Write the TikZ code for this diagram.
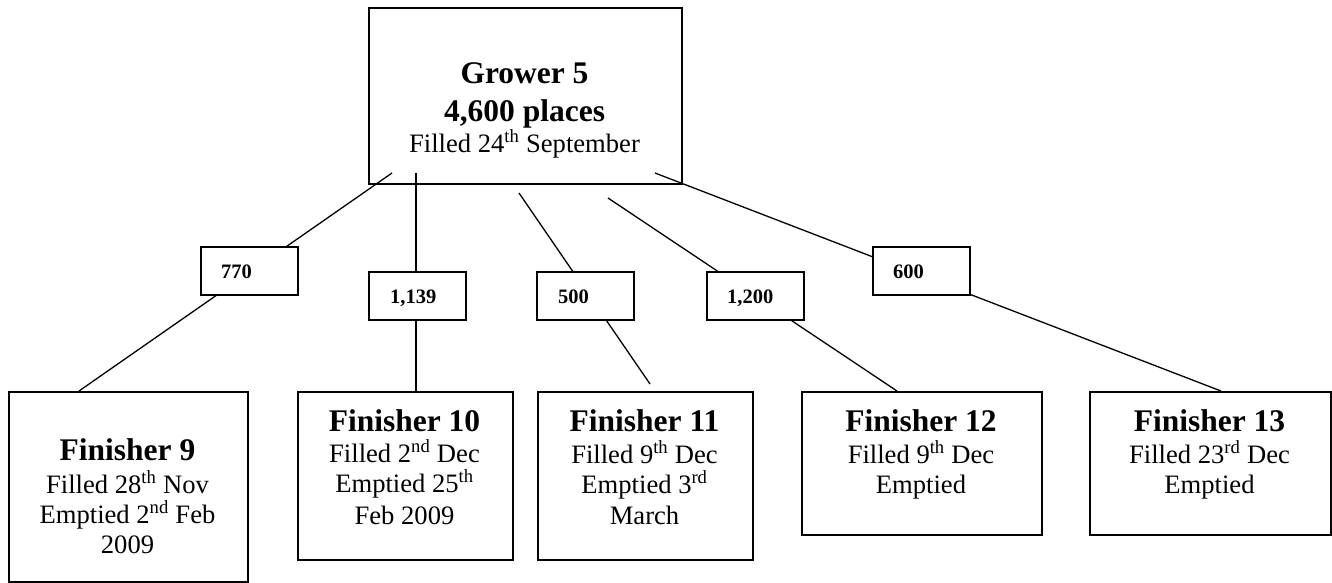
\documentclass[tikz,border=0pt]{standalone}
\usepackage{fontspec}
\setmainfont{Liberation Serif}
\begin{document}
\begin{tikzpicture}[x=1pt,y=-1pt,
  boxst/.style={draw=black, line width=1.6pt, fill=white, inner sep=0pt, anchor=north west},
  conn/.style={line width=1.3pt},
  headb/.style={font=\fontsize{31.5}{36}\selectfont\bfseries, inner sep=0pt, anchor=base},
  reg/.style={font=\fontsize{26.6}{31}\selectfont, inner sep=0pt, anchor=base},
  lab/.style={font=\fontsize{20.5}{24}\selectfont\bfseries, inner sep=0pt, anchor=base west}]
\useasboundingbox (0,0) rectangle (1332,582);

% grower box
\node[boxst, minimum width=313pt, minimum height=176pt] (grower) at (368,7) {};
\node[headb] (g1) at (524.5,83) {Grower 5};
\node[headb] (g2) at (524.5,121) {4,600 places};
\node[reg] (g3) at (524.5,152) {Filled 24\textsuperscript{th} September};

% connector end points
\coordinate (s1) at (392,173);
\coordinate (e1) at (79,391);
\coordinate (s2) at (416,173);
\coordinate (e2) at (416,391);
\coordinate (s3) at (519,193);
\coordinate (e3) at (650,384);
\coordinate (s4) at (608,198);
\coordinate (e4) at (897,391);
\coordinate (s5) at (655,173);
\coordinate (e5) at (1221,391);

\draw[conn] (s1) -- (e1);
\draw[conn] (s2) -- (e2);
\draw[conn] (s3) -- (e3);
\draw[conn] (s4) -- (e4);
\draw[conn] (s5) -- (e5);

% label boxes
\node[boxst, minimum width=97pt, minimum height=48pt] (l1) at (200,246) {};
\node[boxst, minimum width=97pt, minimum height=48pt] (l2) at (368,271) {};
\node[boxst, minimum width=97pt, minimum height=48pt] (l3) at (536,271) {};
\node[boxst, minimum width=97pt, minimum height=48pt] (l4) at (706,271) {};
\node[boxst, minimum width=97pt, minimum height=48pt] (l5) at (872,246) {};
\node[lab] (lt1) at (221,278) {770};
\node[lab] (lt2) at (390,303) {1,139};
\node[lab] (lt3) at (558,303) {500};
\node[lab] (lt4) at (727,303) {1,200};
\node[lab] (lt5) at (893,278) {600};

% finisher boxes
\node[boxst, minimum width=239pt, minimum height=190pt] (f9) at (8,391) {};
\node[boxst, minimum width=215pt, minimum height=168pt] (f10) at (297,391) {};
\node[boxst, minimum width=215pt, minimum height=168pt] (f11) at (537,391) {};
\node[boxst, minimum width=240pt, minimum height=143pt] (f12) at (801,391) {};
\node[boxst, minimum width=241pt, minimum height=143pt] (f13) at (1089,391) {};

\node[headb] (f9a) at (127.5,460) {Finisher 9};
\node[reg] (f9b) at (127.5,493) {Filled 28\textsuperscript{th} Nov};
\node[reg] (f9c) at (127.5,523) {Emptied 2\textsuperscript{nd} Feb};
\node[reg] (f9d) at (127.5,553) {2009};

\node[headb] (f10a) at (404.5,431) {Finisher 10};
\node[reg] (f10b) at (404.5,462) {Filled 2\textsuperscript{nd} Dec};
\node[reg] (f10c) at (404.5,492) {Emptied 25\textsuperscript{th}};
\node[reg] (f10d) at (404.5,524) {Feb 2009};

\node[headb] (f11a) at (644.5,431) {Finisher 11};
\node[reg] (f11b) at (644.5,463) {Filled 9\textsuperscript{th} Dec};
\node[reg] (f11c) at (644.5,493) {Emptied 3\textsuperscript{rd}};
\node[reg] (f11d) at (644.5,524) {March};

\node[headb] (f12a) at (921,431) {Finisher 12};
\node[reg] (f12b) at (921,463) {Filled 9\textsuperscript{th} Dec};
\node[reg] (f12c) at (921,493) {Emptied};

\node[headb] (f13a) at (1209.5,431) {Finisher 13};
\node[reg] (f13b) at (1209.5,463) {Filled 23\textsuperscript{rd} Dec};
\node[reg] (f13c) at (1209.5,493) {Emptied};
\end{tikzpicture}
\end{document}
